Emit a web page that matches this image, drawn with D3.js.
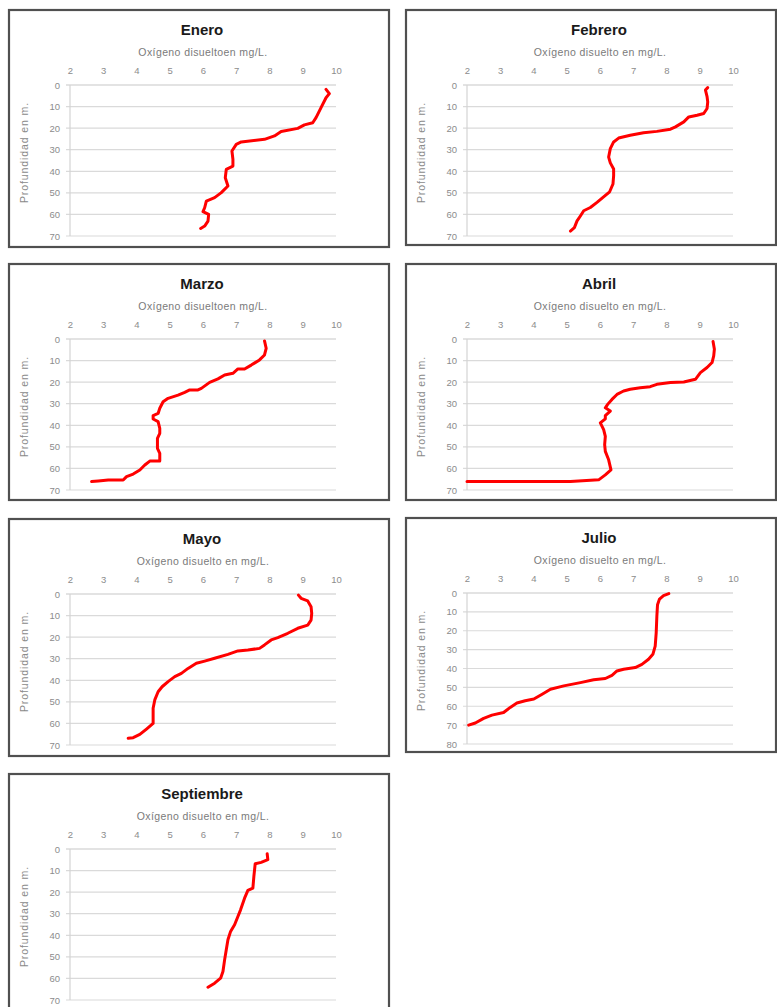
<!DOCTYPE html>
<html>
<head>
<meta charset="utf-8">
<script src="https://cdn.jsdelivr.net/npm/d3@7"></script>
<style>
  html, body { margin: 0; padding: 0; background: #ffffff; }
  svg { display: block; }
</style>
</head>
<body>
<svg id="chart" width="777" height="1007"></svg>
<script>
// Dissolved-oxygen profiles by month: depth (m) and oxygen (mg/L)
const xTicks = [2, 3, 4, 5, 6, 7, 8, 9, 10];
const yTicks70 = [0, 10, 20, 30, 40, 50, 60, 70];
const yTicks80 = [0, 10, 20, 30, 40, 50, 60, 70, 80];

const eneroDepth = [2, 4, 5.9, 10.5, 15.1, 17.5, 18.5, 20.1, 21.6, 23.6, 25.2, 26.4, 27.5, 30.6, 34.5, 37.6, 39.1, 43, 46.8, 49.9, 52.2, 53.8, 56.9, 58.7, 60, 63.1, 65.4, 66.5];
const eneroOxygen = [9.7, 9.8, 9.7, 9.55, 9.4, 9.3, 9.05, 8.85, 8.35, 8.15, 7.85, 7.15, 7.0, 6.87, 6.9, 6.9, 6.7, 6.67, 6.75, 6.55, 6.35, 6.1, 6.05, 6.0, 6.17, 6.15, 6.05, 5.93];

const febreroDepth = [1.2, 2.3, 5.4, 7.8, 10.9, 13.2, 14, 14.8, 17.1, 19.4, 20.5, 21.5, 22.1, 23.3, 24.6, 26.4, 29.5, 33.4, 36.1, 38.9, 42, 45.9, 49.5, 52.1, 54.4, 56.8, 58.3, 60.7, 63, 66.1, 67.7];
const febreroOxygen = [9.24, 9.17, 9.22, 9.24, 9.22, 9.12, 8.92, 8.67, 8.52, 8.27, 8.12, 7.71, 7.31, 6.91, 6.56, 6.41, 6.31, 6.26, 6.31, 6.41, 6.41, 6.39, 6.29, 6.09, 5.91, 5.71, 5.51, 5.41, 5.31, 5.23, 5.11];

const marzoDepth = [0.9, 4.3, 7.4, 9.7, 12.1, 13.9, 13.9, 15.9, 16.7, 18.5, 20.1, 22.9, 23.6, 23.6, 24.7, 26, 27.5, 29.1, 32.1, 34.5, 35.5, 37.1, 38.3, 41.4, 43.7, 46.1, 50.7, 53, 56.6, 56.6, 58.4, 60.7, 62.6, 63.8, 65.4, 65.4, 65.8, 66.1];
const marzoOxygen = [7.85, 7.9, 7.85, 7.7, 7.45, 7.25, 7.05, 6.9, 6.65, 6.45, 6.2, 5.95, 5.85, 5.6, 5.45, 5.25, 4.95, 4.8, 4.7, 4.65, 4.5, 4.5, 4.65, 4.7, 4.7, 4.63, 4.63, 4.7, 4.7, 4.4, 4.25, 4.1, 3.9, 3.7, 3.6, 3.15, 2.85, 2.65];

const abrilDepth = [1.2, 4.7, 7.8, 10.9, 13.2, 15.6, 18.7, 19.9, 20.2, 21, 22.1, 22.6, 23.3, 24.1, 25.7, 28, 30.3, 31.9, 33.4, 35.5, 37, 38.9, 42, 45.1, 49, 52.1, 56, 60.7, 63, 65.3, 66.1, 66.1];
const abrilOxygen = [9.4, 9.44, 9.42, 9.37, 9.22, 9.02, 8.87, 8.52, 8.12, 7.71, 7.51, 7.21, 6.91, 6.71, 6.51, 6.36, 6.23, 6.16, 6.31, 6.16, 6.16, 6.01, 6.11, 6.16, 6.14, 6.16, 6.26, 6.33, 6.16, 5.96, 5.11, 2.0];

const mayoDepth = [0.5, 2, 3.2, 5.9, 9, 12.1, 14.4, 15.9, 18.2, 20.2, 21.3, 23.6, 25.2, 26, 26.4, 28, 29.8, 31.1, 32.1, 34.5, 36.8, 38.3, 40.6, 43, 45.3, 49.1, 53, 56.9, 60, 62.6, 65.1, 66.6, 66.9];
const mayoOxygen = [8.87, 8.95, 9.15, 9.25, 9.27, 9.25, 9.15, 8.85, 8.55, 8.25, 8.05, 7.85, 7.7, 7.35, 7.05, 6.75, 6.35, 6.05, 5.8, 5.55, 5.35, 5.15, 4.95, 4.77, 4.65, 4.55, 4.5, 4.5, 4.5, 4.3, 4.1, 3.9, 3.75];

const julioDepth = [0.35, 1.4, 3.2, 6.2, 12.3, 21.1, 28.1, 32.5, 35.1, 37.8, 39.5, 40.4, 41.3, 43.6, 45.3, 46, 47.5, 49.2, 51, 53.6, 56.2, 57.1, 58.3, 60.6, 63.3, 64.7, 66.4, 68.9, 70];
const julioOxygen = [8.07, 7.91, 7.79, 7.73, 7.71, 7.69, 7.66, 7.59, 7.46, 7.26, 7.06, 6.71, 6.51, 6.36, 6.16, 5.81, 5.41, 4.91, 4.51, 4.26, 4.01, 3.75, 3.5, 3.3, 3.1, 2.75, 2.5, 2.25, 2.05];

const septiembreDepth = [2.2, 4.95, 6.2, 6.8, 12.7, 18.1, 19.2, 22.8, 28.2, 31.3, 35.1, 38.2, 42.1, 46.7, 51.4, 56.8, 59.9, 62.2, 64.1];
const septiembreOxygen = [7.93, 7.95, 7.75, 7.57, 7.53, 7.5, 7.35, 7.25, 7.13, 7.05, 6.95, 6.83, 6.75, 6.7, 6.65, 6.6, 6.53, 6.35, 6.15];

const months = ["Enero", "Febrero", "Marzo", "Abril", "Mayo", "Julio", "Septiembre"];
const xTitles = [
  "Oxígeno disueltoen mg/L.", "Oxígeno disuelto en mg/L.", "Oxígeno disueltoen mg/L.",
  "Oxígeno disuelto en mg/L.", "Oxígeno disuelto en mg/L.", "Oxígeno disuelto en mg/L.",
  "Oxígeno disuelto en mg/L."
];
const yTitle = "Profundidad en m.";

const series = [
  [eneroDepth, eneroOxygen], [febreroDepth, febreroOxygen], [marzoDepth, marzoOxygen],
  [abrilDepth, abrilOxygen], [mayoDepth, mayoOxygen], [julioDepth, julioOxygen],
  [septiembreDepth, septiembreOxygen]
];
const yTickSets = [yTicks70, yTicks70, yTicks70, yTicks70, yTicks70, yTicks80, yTicks70];

// Frame of each small chart: x, y, width, height
const frames = [
  [9, 10, 380, 237], [406, 10, 370, 235],
  [9, 264, 380, 236], [406, 264, 370, 236],
  [9, 519, 380, 237], [406, 518, 370, 234],
  [9, 774, 380, 260]
];

const svg = d3.select("#chart");
const FONT = "'Liberation Sans', Arial, sans-serif";
const plotW = 266, plotH = 151;

months.forEach((month, i) => {
  const [fx, fy, fw, fh] = frames[i];
  const g = svg.append("g").attr("transform", `translate(${fx},${fy})`);

  g.append("rect")
    .attr("x", 0).attr("y", 0).attr("width", fw).attr("height", fh)
    .attr("fill", "#ffffff").attr("stroke", "#505050").attr("stroke-width", 2.2);

  const px = 61, py = 75;
  const ticksY = yTickSets[i];
  const x = d3.scaleLinear().domain([2, 10]).range([0, plotW]);
  const y = d3.scaleLinear().domain([0, ticksY[ticksY.length - 1]]).range([0, plotH]);

  // Title
  g.append("text")
    .attr("x", px + plotW / 2 - 1).attr("y", 25)
    .attr("text-anchor", "middle")
    .attr("font-family", FONT).attr("font-size", 15).attr("font-weight", "bold")
    .attr("fill", "#1a1a1a").text(month);

  // X axis title
  g.append("text")
    .attr("x", px + plotW / 2).attr("y", 46)
    .attr("text-anchor", "middle")
    .attr("font-family", FONT).attr("font-size", 10.5)
    .attr("letter-spacing", 0.4)
    .attr("fill", "#7a7a7a").text(xTitles[i]);

  // Y axis title
  g.append("text")
    .attr("transform", `translate(19,${py + plotH / 2 - 8}) rotate(-90)`)
    .attr("text-anchor", "middle")
    .attr("font-family", FONT).attr("font-size", 10.5)
    .attr("letter-spacing", 0.9)
    .attr("fill", "#8a8a8a").text(yTitle);

  const plot = g.append("g").attr("transform", `translate(${px},${py})`);

  // Horizontal gridlines
  plot.append("g").selectAll("line").data(ticksY).join("line")
    .attr("x1", -4).attr("x2", plotW)
    .attr("y1", d => y(d)).attr("y2", d => y(d))
    .attr("stroke", (d, k) => k === 0 ? "#c8c8c8" : "#dadada")
    .attr("stroke-width", 1.2);

  // Vertical axis line
  plot.append("line")
    .attr("x1", 0).attr("x2", 0).attr("y1", 0).attr("y2", plotH)
    .attr("stroke", "#d4d4d4").attr("stroke-width", 1.2);

  // Top axis labels
  const xa = plot.append("g")
    .call(d3.axisTop(x).tickValues(xTicks).tickSize(0).tickPadding(11).tickFormat(d3.format("d")));
  xa.select(".domain").remove();
  xa.selectAll("text").attr("font-family", FONT).attr("font-size", 9.5).attr("fill", "#8c8c8c");

  // Left axis labels
  const ya = plot.append("g")
    .call(d3.axisLeft(y).tickValues(ticksY).tickSize(0).tickPadding(10).tickFormat(d3.format("d")));
  ya.select(".domain").remove();
  ya.selectAll("text").attr("font-family", FONT).attr("font-size", 9.5).attr("fill", "#8c8c8c");

  // Profile line
  const [depth, oxygen] = series[i];
  const pts = depth.map((d, k) => [oxygen[k], d]);
  plot.append("path")
    .datum(pts)
    .attr("fill", "none")
    .attr("stroke", "#ff0000")
    .attr("stroke-width", 3)
    .attr("stroke-linejoin", "round")
    .attr("stroke-linecap", "round")
    .attr("d", d3.line().x(p => x(p[0])).y(p => y(p[1])));
});
</script>
</body>
</html>
